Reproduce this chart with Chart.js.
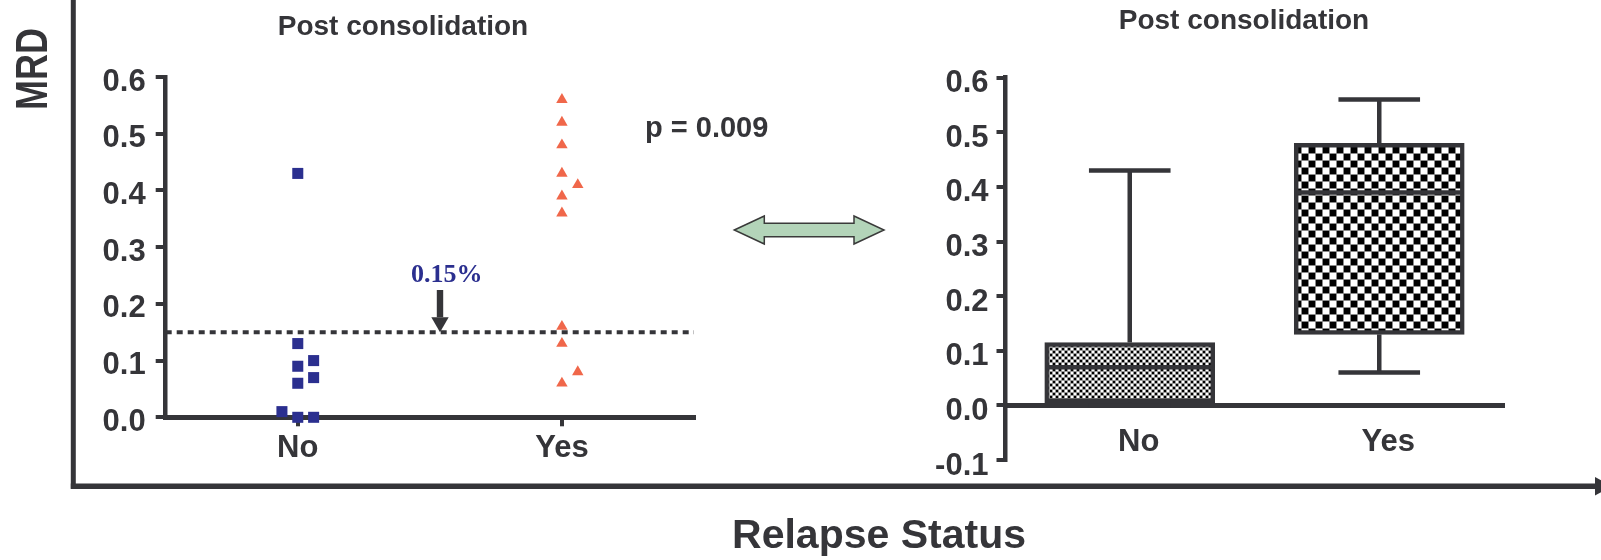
<!DOCTYPE html>
<html>
<head>
<meta charset="utf-8">
<script src="https://cdn.jsdelivr.net/npm/chart.js@4.4.1/dist/chart.umd.min.js"></script>
<style>
  html, body { margin: 0; padding: 0; background: #fff; }
  #wrap { position: relative; width: 1601px; height: 560px; }
  #wrap canvas { position: absolute; left: 0; top: 0; }
</style>
</head>
<body>
<div id="wrap">
  <canvas id="scatterChart" width="1601" height="560"></canvas>
  <canvas id="boxChart" width="1601" height="560"></canvas>
</div>
<script>
// MRD values post consolidation, by relapse status
const groups = ["No", "Yes"];
const mrdNo = [0.43, 0.13, 0.10, 0.09, 0.07, 0.06, 0.01, 0.0, 0.0];
const mrdYes = [0.56, 0.52, 0.48, 0.43, 0.41, 0.39, 0.36, 0.16, 0.13, 0.08, 0.06];
const yTicks = [0, 0.1, 0.2, 0.3, 0.4, 0.5, 0.6];
const yTicksBox = [-0.1, 0, 0.1, 0.2, 0.3, 0.4, 0.5, 0.6];
const cutoff = 0.15;
const cutoffLabel = "0.15%";
const pLabel = "p = 0.009";

const dark = "#353539";
const blue = "#2b2f8f";
const orange = "#f0674a";
const sans = "'Liberation Sans', Arial, Helvetica, sans-serif";
const tickFont = { family: sans, size: 31, weight: "bold" };

// column scatter: points that would overlap get pushed to a side slot
function spread(values, col, gap) {
  const placed = [];
  return values.slice().sort((a, b) => a - b).map(v => {
    let slot = [0, 1, -1].find(s => !placed.some(p => p.s === s && Math.abs(p.v - v) < gap));
    if (slot === undefined) slot = 0;
    placed.push({ s: slot, v: v });
    return { x: col + slot * 0.06, y: v };
  });
}

// quartiles with the (n+1)p rule
function quantile(sorted, p) {
  const pos = (sorted.length + 1) * p - 1;
  const lo = Math.floor(pos), hi = Math.ceil(pos);
  return sorted[lo] + (sorted[hi] - sorted[lo]) * (pos - lo);
}
function boxStats(values) {
  const s = values.slice().sort((a, b) => a - b);
  return { min: s[0], q1: quantile(s, 0.25), median: quantile(s, 0.5), q3: quantile(s, 0.75), max: s[s.length - 1] };
}
const stats = [boxStats(mrdNo), boxStats(mrdYes)];

function tickText(v) {
  const t = Math.abs(v).toFixed(1);
  return v < -0.001 ? "-" + t : t;
}

// checkered fills for the boxes
const probe = document.createElement("canvas").getContext("2d");
function checker(cell, gapColor) {
  const c = document.createElement("canvas");
  c.width = c.height = cell * 2;
  const g = c.getContext("2d");
  g.fillStyle = gapColor; g.fillRect(0, 0, cell * 2, cell * 2);
  const s = cell - 1;
  g.fillStyle = "#000"; g.fillRect(0, 0, s, s); g.fillRect(cell, cell, s, s);
  g.fillStyle = "#fff"; g.fillRect(cell, 0, s, s); g.fillRect(0, cell, s, s);
  return probe.createPattern(c, "repeat");
}
const fineFill = (function () {
  const c = document.createElement("canvas");
  c.width = c.height = 6;
  const g = c.getContext("2d");
  g.fillStyle = "#999"; g.fillRect(0, 0, 6, 6);
  g.fillStyle = "#000"; g.fillRect(0, 0, 2, 2); g.fillRect(3, 3, 2, 2);
  g.fillStyle = "#fff"; g.fillRect(3, 0, 2, 2); g.fillRect(0, 3, 2, 2);
  return probe.createPattern(c, "repeat");
})();
const coarseFill = checker(7, "#8a8a8a");

function line(ctx, x1, y1, x2, y2) {
  ctx.beginPath(); ctx.moveTo(x1, y1); ctx.lineTo(x2, y2); ctx.stroke();
}

// cutoff line under the points
const cutoffLine = {
  id: "cutoffLine",
  beforeDatasetsDraw(chart) {
    const { ctx, chartArea, scales } = chart;
    const y = scales.y.getPixelForValue(cutoff);
    ctx.save();
    ctx.strokeStyle = dark; ctx.lineWidth = 4; ctx.setLineDash([6, 5]);
    line(ctx, chartArea.left, y, chartArea.right, y);
    ctx.restore();
  }
};

// frame, titles, notes and arrows around the panels
const decor = {
  id: "decor",
  afterDraw(chart) {
    const { ctx, scales } = chart;
    ctx.save();
    ctx.fillStyle = dark; ctx.strokeStyle = dark;

    // outer axes
    ctx.lineWidth = 5;
    line(ctx, 73.3, 0, 73.3, 488.8);
    ctx.lineWidth = 5.5;
    line(ctx, 70.8, 486.3, 1596, 486.3);
    ctx.beginPath(); ctx.moveTo(1595, 477); ctx.lineTo(1612, 486.3); ctx.lineTo(1595, 495.6); ctx.closePath(); ctx.fill();

    // axis titles
    ctx.font = "bold 41px " + sans;
    ctx.textAlign = "center"; ctx.textBaseline = "alphabetic";
    ctx.fillText("Relapse Status", 879, 548);

    ctx.save();
    ctx.translate(46.7, 110); ctx.rotate(-Math.PI / 2); ctx.scale(1, 1.23);
    ctx.font = "bold 36px " + sans; ctx.textAlign = "left";
    ctx.fillText("MRD", 0, 0);
    ctx.fillText("(%)", ctx.measureText("MRD").width + 27, 0);
    ctx.restore();

    // panel title and p value
    ctx.font = "bold 28px " + sans;
    ctx.fillText("Post consolidation", 403, 35);
    ctx.font = "bold 29px " + sans; ctx.textAlign = "left";
    ctx.fillText(pLabel, 645, 136.5);

    // cutoff note with its arrow
    const yc = scales.y.getPixelForValue(cutoff);
    ctx.fillStyle = blue; ctx.textAlign = "center";
    ctx.font = "bold 26px 'Liberation Serif', 'Times New Roman', serif";
    ctx.fillText(cutoffLabel, 446.7, 281.7);
    ctx.fillStyle = dark;
    ctx.fillRect(436.8, 290, 6.4, yc - 15 - 290);
    ctx.beginPath(); ctx.moveTo(431.3, yc - 15); ctx.lineTo(448.7, yc - 15); ctx.lineTo(440, yc); ctx.closePath(); ctx.fill();

    // double arrow between the panels
    ctx.beginPath();
    ctx.moveTo(734.3, 230); ctx.lineTo(764.3, 216); ctx.lineTo(764.3, 223.3);
    ctx.lineTo(854, 223.3); ctx.lineTo(854, 216); ctx.lineTo(884, 230);
    ctx.lineTo(854, 244); ctx.lineTo(854, 236.7); ctx.lineTo(764.3, 236.7);
    ctx.lineTo(764.3, 244); ctx.closePath();
    ctx.fillStyle = "#b3d4b9"; ctx.fill();
    ctx.lineWidth = 1.5; ctx.strokeStyle = "#3a3a3a"; ctx.stroke();
    ctx.restore();
  }
};

// medians, whiskers and the second panel title
const whiskers = {
  id: "whiskers",
  afterDatasetsDraw(chart) {
    const { ctx, scales: { x, y } } = chart;
    const bars = chart.getDatasetMeta(0).data;
    ctx.save();
    ctx.strokeStyle = dark; ctx.lineWidth = 4.5;
    stats.forEach((s, i) => {
      const bar = bars[i];
      const cx = x.getPixelForValue(i + 1);
      const half = bar.width / 2;
      const cap = half * 0.48;
      const ym = y.getPixelForValue(s.median);
      line(ctx, bar.x - half + 2, ym, bar.x + half - 2, ym);
      const yMax = y.getPixelForValue(s.max), yMin = y.getPixelForValue(s.min);
      line(ctx, cx, y.getPixelForValue(s.q3), cx, yMax);
      line(ctx, cx - cap, yMax, cx + cap, yMax);
      line(ctx, cx, y.getPixelForValue(s.q1), cx, yMin);
      line(ctx, cx - cap, yMin, cx + cap, yMin);
    });
    ctx.fillStyle = dark;
    ctx.font = "bold 28px " + sans; ctx.textAlign = "center";
    ctx.fillText("Post consolidation", 1244, 29);
    ctx.restore();
  }
};

// left panel: individual values
new Chart("scatterChart", {
  type: "scatter",
  data: {
    datasets: [
      { data: spread(mrdNo, 1, 0.022), pointStyle: "rect", pointRadius: 7.8, backgroundColor: blue, borderWidth: 0, clip: false },
      { data: spread(mrdYes, 2, 0.022), pointStyle: "triangle", pointRadius: 6.6, backgroundColor: orange, borderWidth: 0, clip: false }
    ]
  },
  options: {
    responsive: false, animation: false, events: [],
    layout: { padding: { left: 55.7, top: 77, right: 907, bottom: 82.7 } },
    plugins: { legend: { display: false }, tooltip: { enabled: false } },
    scales: {
      x: {
        type: "linear", min: 0.5, max: 2.5,
        afterFit: s => { s.height = 60; },
        afterBuildTicks: s => { s.ticks = groups.map((g, i) => ({ value: i + 1 })); },
        grid: { drawOnChartArea: false, tickLength: 9, lineWidth: 4, color: dark },
        border: { width: 5, color: dark },
        ticks: { callback: v => groups[v - 1], font: tickFont, color: dark, padding: 4 }
      },
      y: {
        min: 0, max: 0.6,
        afterFit: s => { s.width = 110; },
        afterBuildTicks: s => { s.ticks = yTicks.map(v => ({ value: v })); },
        grid: { drawOnChartArea: false, tickLength: 10, lineWidth: 4, color: dark },
        border: { width: 4.5, color: dark },
        ticks: { callback: tickText, font: tickFont, color: dark, padding: 10, labelOffset: 5 }
      }
    }
  },
  plugins: [cutoffLine, decor]
});

// right panel: box and whiskers
new Chart("boxChart", {
  type: "bar",
  data: {
    datasets: [{
      data: stats.map((s, i) => ({ x: i + 1, y: [s.q1, s.q3] })),
      backgroundColor: [fineFill, coarseFill],
      borderColor: dark, borderWidth: 4.5, borderSkipped: false,
      barThickness: 170
    }]
  },
  options: {
    responsive: false, animation: false, events: [],
    layout: { padding: { left: 895, top: 77.7, right: 97, bottom: 100 } },
    plugins: { legend: { display: false }, tooltip: { enabled: false } },
    scales: {
      x: {
        type: "linear", min: 0.5, max: 2.5, offset: false, position: { y: 0 },
        afterBuildTicks: s => { s.ticks = groups.map((g, i) => ({ value: i + 1 })); },
        grid: { display: false, offset: false },
        border: { width: 5, color: dark },
        ticks: { callback: v => groups[v - 1], font: tickFont, color: dark, padding: 10, labelOffset: 9 }
      },
      y: {
        min: -0.1, max: 0.6,
        afterFit: s => { s.width = 110; },
        afterBuildTicks: s => { s.ticks = yTicksBox.map(v => ({ value: v })); },
        grid: { drawOnChartArea: false, tickLength: 8.5, lineWidth: 4, color: dark },
        border: { width: 4.5, color: dark },
        ticks: { callback: tickText, font: tickFont, color: dark, padding: 8, labelOffset: 6 }
      }
    }
  },
  plugins: [whiskers]
});
</script>
</body>
</html>
